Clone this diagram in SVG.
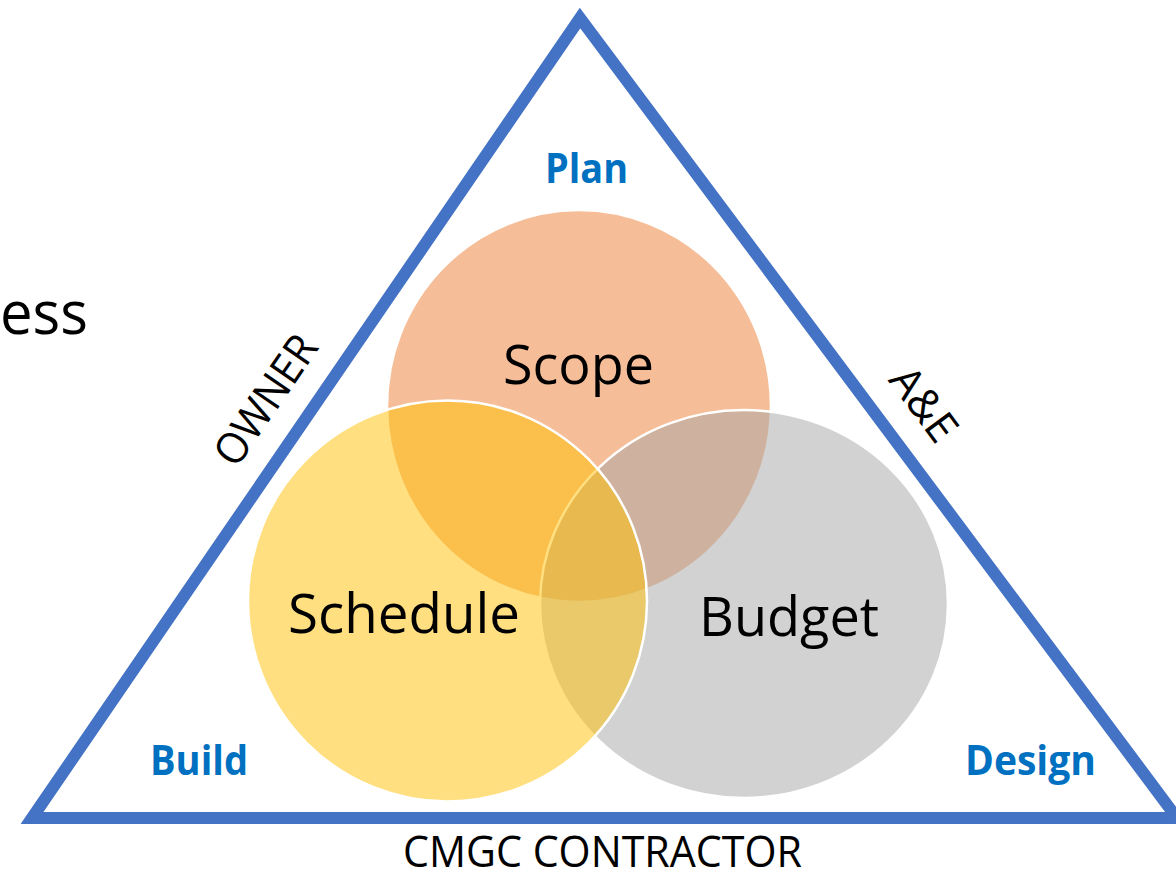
<svg xmlns="http://www.w3.org/2000/svg" width="1176" height="880" viewBox="0 0 1176 880">
<style>
.circ{fill-opacity:0.5;stroke:#ffffff;stroke-width:2.5}
.big{font-family:"Open Sans","Liberation Sans",sans-serif;font-size:55px;fill:#000;text-anchor:middle}
.phase{font-family:"Open Sans","Liberation Sans",sans-serif;font-size:41px;font-weight:bold;fill:#0070C0;text-anchor:middle}
.party{font-family:"Open Sans","Liberation Sans",sans-serif;font-size:43px;fill:#000;text-anchor:middle}
</style>
<rect width="1176" height="880" fill="#ffffff"/>
<g id="partial-title">
<text x="0" y="334" font-family="'Open Sans','Liberation Sans',sans-serif" font-size="60" fill="#000" textLength="88" lengthAdjust="spacingAndGlyphs">ess</text>
</g>
<g id="triangle">
<polygon points="32,818 580,18 1177,818" fill="none" stroke="#4472C4" stroke-width="12" stroke-linejoin="miter" stroke-miterlimit="10"/>
</g>
<g id="connectors"></g>
<g id="scope">
<ellipse class="circ" cx="579" cy="406" rx="192" ry="196" fill="#ED7D31"/>
</g>
<g id="budget">
<ellipse class="circ" cx="744" cy="604" rx="204" ry="194" fill="#A5A5A5"/>
</g>
<g id="schedule">
<ellipse class="circ" cx="447.5" cy="601" rx="199.5" ry="200.5" fill="#FFC000"/>
</g>
<g id="labels">
<text class="big" x="578.5" y="384" textLength="151" lengthAdjust="spacingAndGlyphs">Scope</text>
<text class="big" x="404" y="633" textLength="232" lengthAdjust="spacingAndGlyphs">Schedule</text>
<text class="big" x="789" y="636" textLength="180" lengthAdjust="spacingAndGlyphs">Budget</text>
</g>
<g id="phase-plan"><text class="phase" x="586.5" y="183" textLength="83" lengthAdjust="spacingAndGlyphs">Plan</text></g>
<g id="phase-build"><text class="phase" x="199" y="775" textLength="98" lengthAdjust="spacingAndGlyphs">Build</text></g>
<g id="phase-design"><text class="phase" x="1030.5" y="775" textLength="131" lengthAdjust="spacingAndGlyphs">Design</text></g>
<g id="party-owner"><text class="party" transform="translate(278,408.5) rotate(-55.6)" x="0" y="0" textLength="148" lengthAdjust="spacingAndGlyphs">OWNER</text></g>
<g id="party-ae"><text class="party" transform="translate(912,413) rotate(53.3)" x="0" y="0" textLength="82" lengthAdjust="spacingAndGlyphs">A&amp;E</text></g>
<g id="party-cmgc"><text class="party" x="602.5" y="867" font-size="42" textLength="399" lengthAdjust="spacingAndGlyphs">CMGC CONTRACTOR</text></g>
</svg>
